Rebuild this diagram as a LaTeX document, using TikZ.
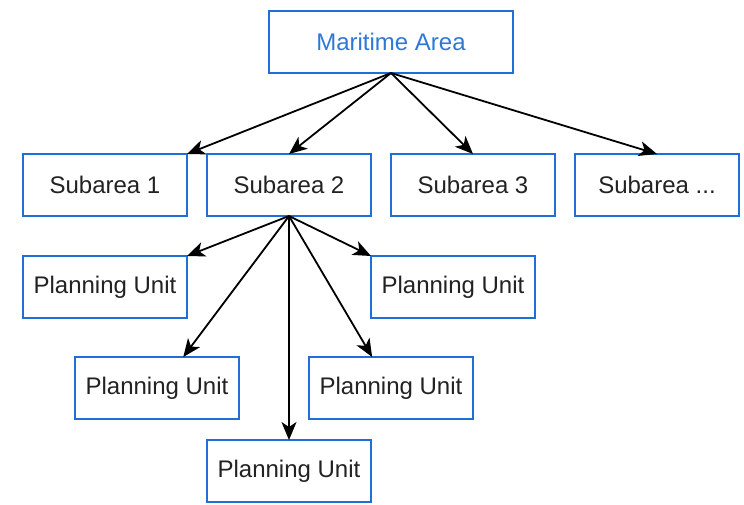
\documentclass[tikz,border=0pt]{standalone}
\usepackage{fontspec}
\setmainfont{Liberation Sans}
\usetikzlibrary{arrows.meta,calc}
\definecolor{boxblue}{HTML}{1F6FD6}
\definecolor{txtblue}{HTML}{2E78D6}
\definecolor{txtgray}{HTML}{222222}
\begin{document}
\begin{tikzpicture}[x=1pt,y=-1pt,
  box/.style={draw=boxblue,line width=2pt,fill=white,minimum width=164pt,minimum height=62pt,inner sep=0pt,outer sep=0pt,text=txtgray,font=\fontsize{24}{28}\selectfont},
  arr/.style={line width=1.8pt,-{Stealth[length=18pt,width=15pt,inset=5pt]}}]
\useasboundingbox (0,0) rectangle (744,505);
\node[box,minimum width=244pt,text=txtblue] (ma) at (391,42) {Maritime Area};
\node[box] (s1) at (105,185) {Subarea 1};
\node[box] (s2) at (289,185) {Subarea 2};
\node[box] (s3) at (473,185) {Subarea 3};
\node[box] (s4) at (657,185) {Subarea ...};
\node[box] (p1) at (105,287) {Planning Unit};
\node[box] (p2) at (453,287) {Planning Unit};
\node[box] (p3) at (157,388) {Planning Unit};
\node[box] (p4) at (391,388) {Planning Unit};
\node[box] (p5) at (289,471) {Planning Unit};
\draw[arr] (ma.south) -- (s1.north east);
\draw[arr] (ma.south) -- (s2.north);
\draw[arr] (ma.south) -- (s3.north);
\draw[arr] (ma.south) -- (s4.north);
\draw[arr] (s2.south) -- (p1.north east);
\draw[arr] (s2.south) -- (p2.north west);
\draw[arr] (s2.south) -- ($(p3.north west)!0.66!(p3.north east)$);
\draw[arr] (s2.south) -- ($(p4.north west)!0.385!(p4.north east)$);
\draw[arr] (s2.south) -- (p5.north);
\end{tikzpicture}
\end{document}
